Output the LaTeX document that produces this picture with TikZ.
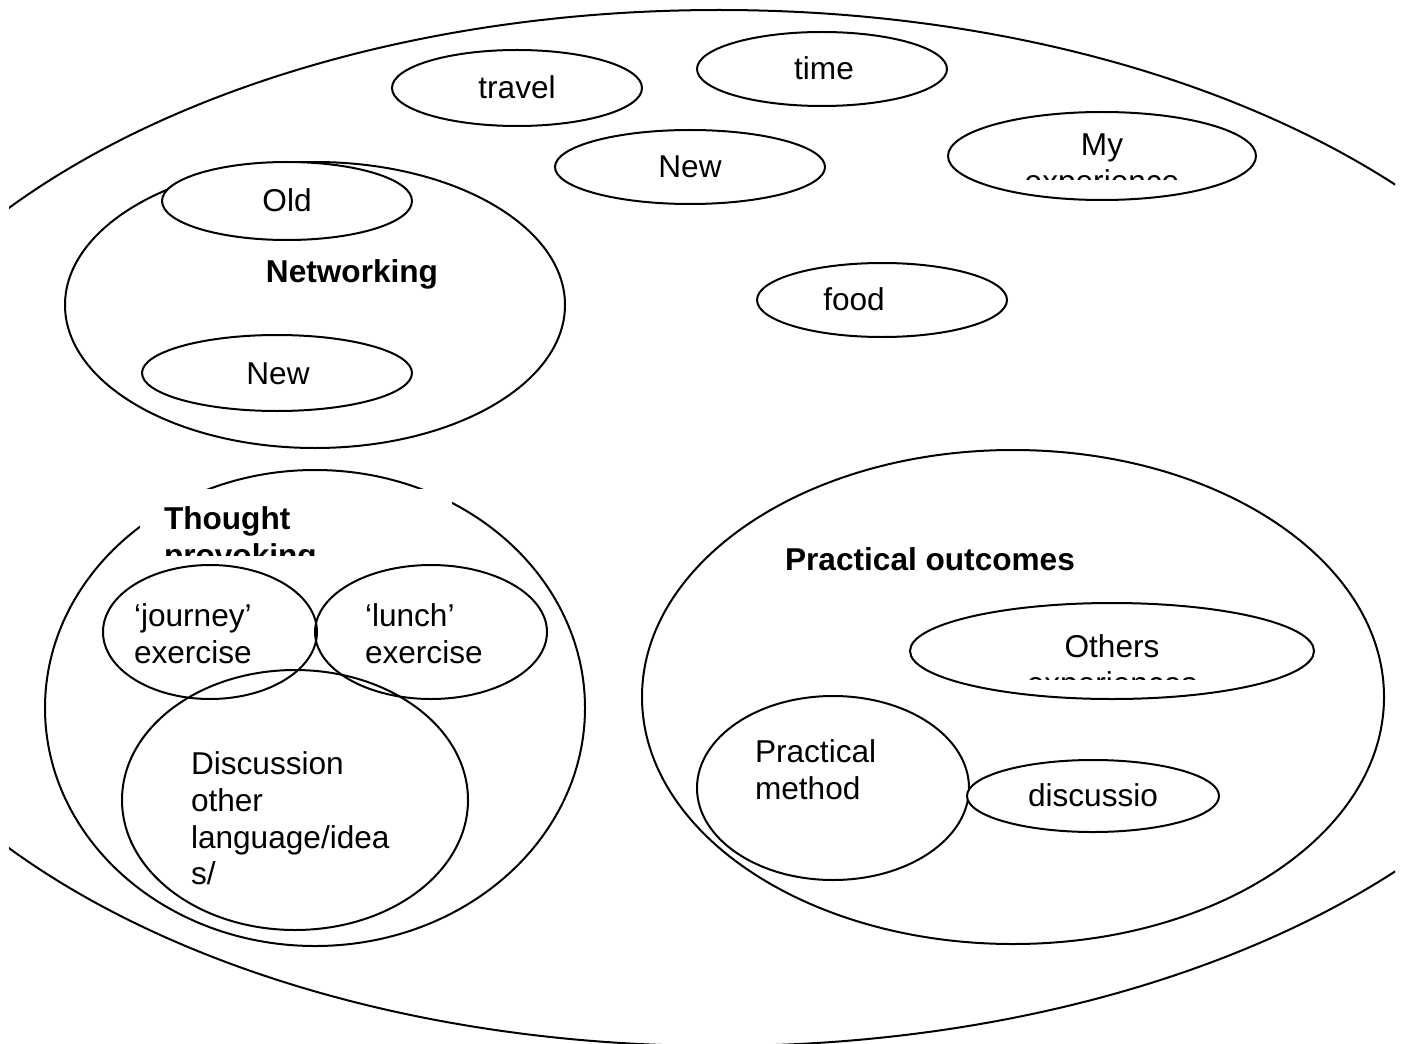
\documentclass[tikz,border=0pt]{standalone}
\usepackage{fontspec}
\setmainfont{Liberation Sans}
\begin{document}
\begin{tikzpicture}[x=0.5pt,y=-0.5pt,line width=1pt,
  every node/.style={font=\fontsize{15.8}{18.3}\selectfont, inner sep=0pt},
  bub/.style={draw, fill=white},
  ring/.style={draw},
  lbl/.style={anchor=base},
  blk/.style={anchor=north west, align=left},
  bold/.style={font=\fontsize{15.8}{18.3}\selectfont\bfseries}]
\useasboundingbox (0,0) rectangle (1406,1043);
\fill[white] (0,0) rectangle (1406,1043);
% outer ellipse, clipped at page edges
\begin{scope}
  \clip (9,-20) rectangle (1395,1100);
  \draw (719,528) ellipse [x radius=903, y radius=518];
\end{scope}
% top bubbles
\draw[bub] (517,88) ellipse [x radius=125, y radius=38];
\node[lbl] (travel) at (517,99) {travel};
\draw[bub] (822,69) ellipse [x radius=125, y radius=37];
\node[lbl] (time) at (824,80) {time};
\draw[bub] (690,167) ellipse [x radius=135, y radius=37];
\node[lbl] (newtop) at (690,178) {New};
\draw[bub] (1102,156) ellipse [x radius=154, y radius=44];
\begin{scope}
  \clip (950,110) rectangle (1256,180);
  \node[anchor=north, align=center] (myexp) at (1102,133) {My\\experience};
\end{scope}
\draw[bub] (882,300) ellipse [x radius=125, y radius=37];
\node[lbl] (food) at (854,310) {food};
% networking
\draw[bub] (315,305) ellipse [x radius=250, y radius=143];
\draw[bub] (287,201) ellipse [x radius=125, y radius=39];
\node[lbl] (old) at (287,212) {Old};
\node[lbl, bold] (networking) at (352,282) {Networking};
\draw[bub] (277,373) ellipse [x radius=135, y radius=38];
\node[lbl] (newlow) at (278,384) {New};
% thought provoking
\draw[ring] (315,708) ellipse [x radius=270, y radius=238];
\fill[white] (140,489) rectangle (452,555);
\begin{scope}
  \clip (140,489) rectangle (452,555);
  \node[blk, bold] (thought) at (163,506) {Thought\\provoking};
\end{scope}
\draw[ring] (210,632) ellipse [x radius=107, y radius=67];
\node[blk] (journey) at (133,603) {`journey'\\exercise};
\draw[ring] (431,632) ellipse [x radius=116, y radius=67];
\node[blk] (lunch) at (364,603) {`lunch'\\exercise};
\draw[ring] (295,800) ellipse [x radius=173, y radius=130];
\node[blk] (discussion) at (190,751) {Discussion\\other\\language/idea\\s/};
% practical outcomes
\draw[ring] (1013,697) ellipse [x radius=371, y radius=247];
\node[lbl, bold] (practical) at (930,570) {Practical outcomes};
\draw[bub] (1112,651) ellipse [x radius=202, y radius=48];
\begin{scope}
  \clip (920,610) rectangle (1305,679);
  \node[anchor=north, align=center] (others) at (1112,634) {Others\\experiences};
\end{scope}
\draw[ring] (833,788) ellipse [x radius=136, y radius=92];
\node[blk] (method) at (754,739) {Practical\\method};
\draw[bub] (1093,796) ellipse [x radius=126, y radius=36];
\node[lbl] (discussio) at (1093,806) {discussio};
\end{tikzpicture}
\end{document}
